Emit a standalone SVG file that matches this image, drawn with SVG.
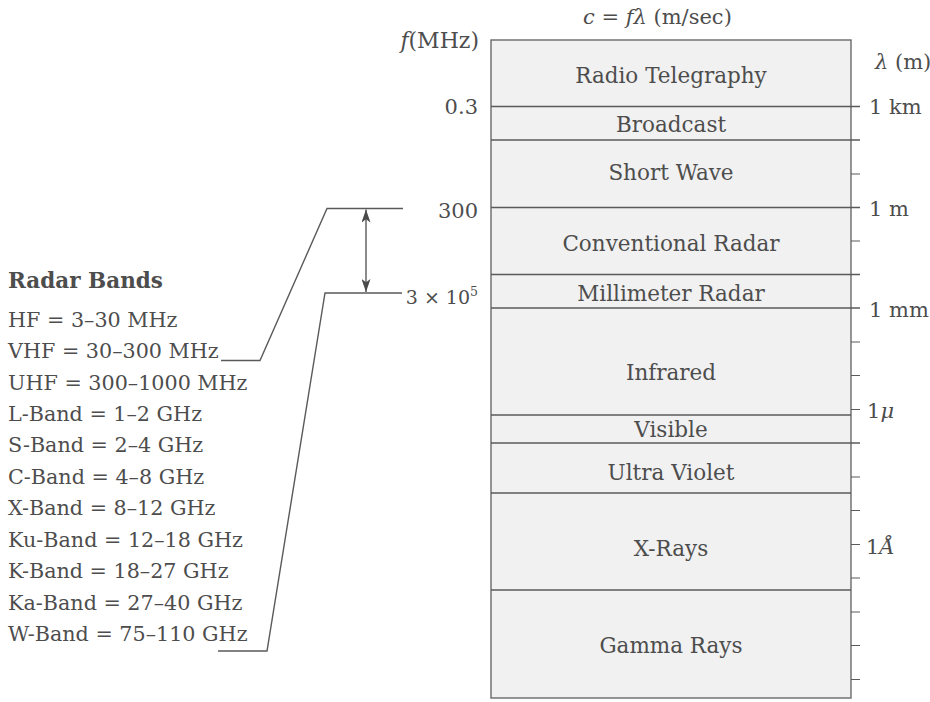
<svg xmlns="http://www.w3.org/2000/svg" width="930" height="702" viewBox="0 0 930 702">
<style>
  text { font-family: "DejaVu Serif", "Liberation Serif", serif; fill: #4d4d4d; }
  .band { font-size: 21.5px; text-anchor: middle; }
  .lab { font-size: 20.7px; }
  .ax { font-size: 21px; }
  .title { font-size: 21.5px; font-weight: bold; }
  .it { font-style: italic; }
  .ln { stroke: #5a5a5a; stroke-width: 1.4; fill: none; }
  .tk { stroke: #5a5a5a; stroke-width: 1.2; fill: none; }
  .box { fill: #f1f1f1; stroke: #6a6a6a; stroke-width: 1.4; }
</style>
<defs>
  <marker id="ah" viewBox="0 0 10 10" refX="10" refY="5" markerWidth="13" markerHeight="9" markerUnits="userSpaceOnUse" orient="auto-start-reverse" preserveAspectRatio="none">
    <path d="M0,0 L10,5 L0,10 L2.5,5 Z" fill="#4a4a4a"/>
  </marker>
</defs>
<rect width="930" height="702" fill="#ffffff"/>

<g id="spectrum">
  <rect class="box" x="491" y="40" width="360" height="658"/>
</g>

<g id="band-radio-telegraphy"><text class="band" x="671" y="83">Radio Telegraphy</text></g>
<g id="band-broadcast"><line class="ln" x1="491" y1="106.5" x2="860" y2="106.5"/><text class="band" x="671" y="132">Broadcast</text></g>
<g id="band-short-wave"><line class="ln" x1="491" y1="140" x2="860" y2="140"/><text class="band" x="671" y="180">Short Wave</text></g>
<g id="band-conventional-radar"><line class="ln" x1="491" y1="207.5" x2="860" y2="207.5"/><text class="band" x="671" y="251">Conventional Radar</text></g>
<g id="band-millimeter-radar"><line class="ln" x1="491" y1="274.5" x2="860" y2="274.5"/><text class="band" x="671" y="301">Millimeter Radar</text></g>
<g id="band-infrared"><line class="ln" x1="491" y1="308" x2="860" y2="308"/><text class="band" x="671" y="380">Infrared</text></g>
<g id="band-visible"><line class="ln" x1="491" y1="415" x2="851" y2="415"/><text class="band" x="671" y="437">Visible</text></g>
<g id="band-ultra-violet"><line class="ln" x1="491" y1="443" x2="860" y2="443"/><text class="band" x="671" y="480">Ultra Violet</text></g>
<g id="band-x-rays"><line class="ln" x1="491" y1="493" x2="851" y2="493"/><text class="band" x="671" y="556">X-Rays</text></g>
<g id="band-gamma-rays"><line class="ln" x1="491" y1="590" x2="851" y2="590"/><text class="band" x="671" y="653">Gamma Rays</text></g>

<g id="wavelength-ticks">
  <path class="tk" d="M851,174 H860 M851,241 H860 M851,342 H860 M851,375.5 H860 M851,409.5 H860 M851,477 H860 M851,510.5 H860 M851,544.5 H860 M851,578 H860 M851,612 H860 M851,645.5 H860 M851,679.5 H860"/>
</g>

<g id="axis-labels">
  <text class="ax" x="583" y="24"><tspan class="it">c</tspan> = <tspan class="it">fλ</tspan> (m/sec)</text>
  <text class="ax" x="479" y="48" text-anchor="end" style="font-size:22px"><tspan class="it">f</tspan>(MHz)</text>
  <text class="ax" x="875" y="69"><tspan class="it">λ</tspan> (m)</text>
  <text class="ax" x="478" y="114" text-anchor="end">0.3</text>
  <text class="ax" x="478" y="218" text-anchor="end">300</text>
  <text class="ax" x="478" y="304" text-anchor="end" style="font-size:19px">3 × 10<tspan style="font-size:12.5px" dy="-8">5</tspan></text>
  <text class="ax" x="869" y="114">1 km</text>
  <text class="ax" x="869" y="216">1 m</text>
  <text class="ax" x="869" y="317">1 mm</text>
  <text class="ax" x="867" y="418">1<tspan class="it">μ</tspan></text>
  <text class="ax" x="866" y="554">1<tspan class="it">Å</tspan></text>
</g>

<g id="radar-bands">
  <text class="title" x="8" y="288">Radar Bands</text>
  <text class="lab" x="8" y="327">HF = 3–30 MHz</text>
  <text class="lab" x="8" y="358">VHF = 30–300 MHz</text>
  <text class="lab" x="8" y="390">UHF = 300–1000 MHz</text>
  <text class="lab" x="8" y="421">L-Band = 1–2 GHz</text>
  <text class="lab" x="8" y="452">S-Band = 2–4 GHz</text>
  <text class="lab" x="8" y="484">C-Band = 4–8 GHz</text>
  <text class="lab" x="8" y="515">X-Band = 8–12 GHz</text>
  <text class="lab" x="8" y="547">Ku-Band = 12–18 GHz</text>
  <text class="lab" x="8" y="578">K-Band = 18–27 GHz</text>
  <text class="lab" x="8" y="610">Ka-Band = 27–40 GHz</text>
  <text class="lab" x="8" y="641">W-Band = 75–110 GHz</text>
</g>

<g id="connectors">
  <path class="ln" d="M221,360.5 H260 L327,208.5 H403"/>
  <path class="ln" d="M218,651 H267 L325,293 H402"/>
  <line class="ln" x1="366" y1="209.5" x2="366" y2="292" marker-start="url(#ah)" marker-end="url(#ah)"/>
</g>
</svg>
